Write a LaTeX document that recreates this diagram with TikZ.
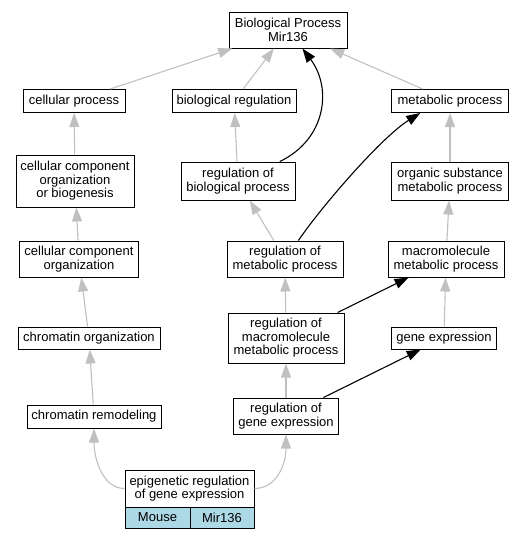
\documentclass[tikz,border=0pt]{standalone}
\usepackage{fontspec}
\setmainfont{Liberation Sans}
\usetikzlibrary{arrows.meta}
\definecolor{edgegray}{RGB}{192,192,192}
\definecolor{speciesblue}{RGB}{173,216,230}
\tikzset{
  term/.style={draw, fill=white, align=center, inner sep=0pt, line width=1pt,
    font=\fontsize{13}{13.5}\selectfont},
  isa/.style={edgegray, line width=1.1pt, -{Triangle[length=14pt,width=10pt]}},
  regs/.style={black, line width=1.1pt, -{Triangle[length=14pt,width=10pt]}}
}
\begin{document}
\begin{tikzpicture}[x=1pt,y=1pt]
      \useasboundingbox (0,0) rectangle (524,-539);
      \draw
        (288,-30) node[term, minimum width=118, minimum height=36] (top){Biological Process\\Mir136}
        (74,-101) node[term, minimum width=102, minimum height=23] (cp){cellular process}
        (234,-101) node[term, minimum width=124, minimum height=23] (br){biological regulation}
        (450,-101) node[term, minimum width=117, minimum height=23] (mp){metabolic process}
        (75,-181) node[term, minimum width=118, minimum height=52] (ccob){cellular component\\organization\\or biogenesis}
        (238,-181) node[term, minimum width=114, minimum height=38] (rbp){regulation of\\biological process}
        (450,-181) node[term, minimum width=117, minimum height=38] (osmp){organic substance\\metabolic process}
        (79,-259) node[term, minimum width=119, minimum height=36] (cco){cellular component\\organization}
        (285,-259) node[term, minimum width=116, minimum height=36] (rmp){regulation of\\metabolic process}
        (446,-259) node[term, minimum width=116, minimum height=36] (mmp){macromolecule\\metabolic process}
        (89,-338) node[term, minimum width=142, minimum height=22] (co){chromatin organization}
        (286,-338) node[term, minimum width=116, minimum height=50] (rmmp){regulation of\\macromolecule\\metabolic process}
        (444,-338) node[term, minimum width=105, minimum height=22] (ge){gene expression}
        (94,-416.5) node[term, minimum width=134, minimum height=23] (crem){chromatin remodeling}
        (286,-416) node[term, minimum width=105, minimum height=36] (rge){regulation of\\gene expression}
        (189.5,-488.5) node[term, minimum width=129, minimum height=37] (epi){epigenetic regulation\\of gene expression}
        (157.5,-517.5) node[term, fill=speciesblue, minimum width=65, minimum height=21] (mouse){Mouse}
        (222,-517.5) node[term, fill=speciesblue, minimum width=64, minimum height=21] (gene){Mir136};
      \begin{scope}[isa]
        \draw (cp) -- (top);
        \draw (br) -- (top);
        \draw (mp) -- (top);
        \draw (ccob) -- (cp);
        \draw (rbp) -- (br);
        \draw (osmp) -- (mp);
        \draw (cco) -- (ccob);
        \draw (rmp) -- (rbp);
        \draw (mmp) -- (osmp);
        \draw (co) -- (cco);
        \draw (rmmp) -- (rmp);
        \draw (ge) -- (mmp);
        \draw (crem) -- (co);
        \draw (rge) -- (rmmp);
        \draw (epi.west) .. controls +(-22,0) and +(0,-30) .. (crem.south);
        \draw (epi.east) .. controls +(22,0) and +(0,-30) .. (rge.south);
      \end{scope}
      \begin{scope}[regs]
        \draw (rbp.25) .. controls +(46,22) and +(30,-40) .. (top.-52);
        \draw (rmp.54) .. controls +(20,30) and +(-40,-25) .. (mp.202);
        \draw (rmmp) -- (mmp);
        \draw (rge) -- (ge);
      \end{scope}
    \end{tikzpicture}
\end{document}
